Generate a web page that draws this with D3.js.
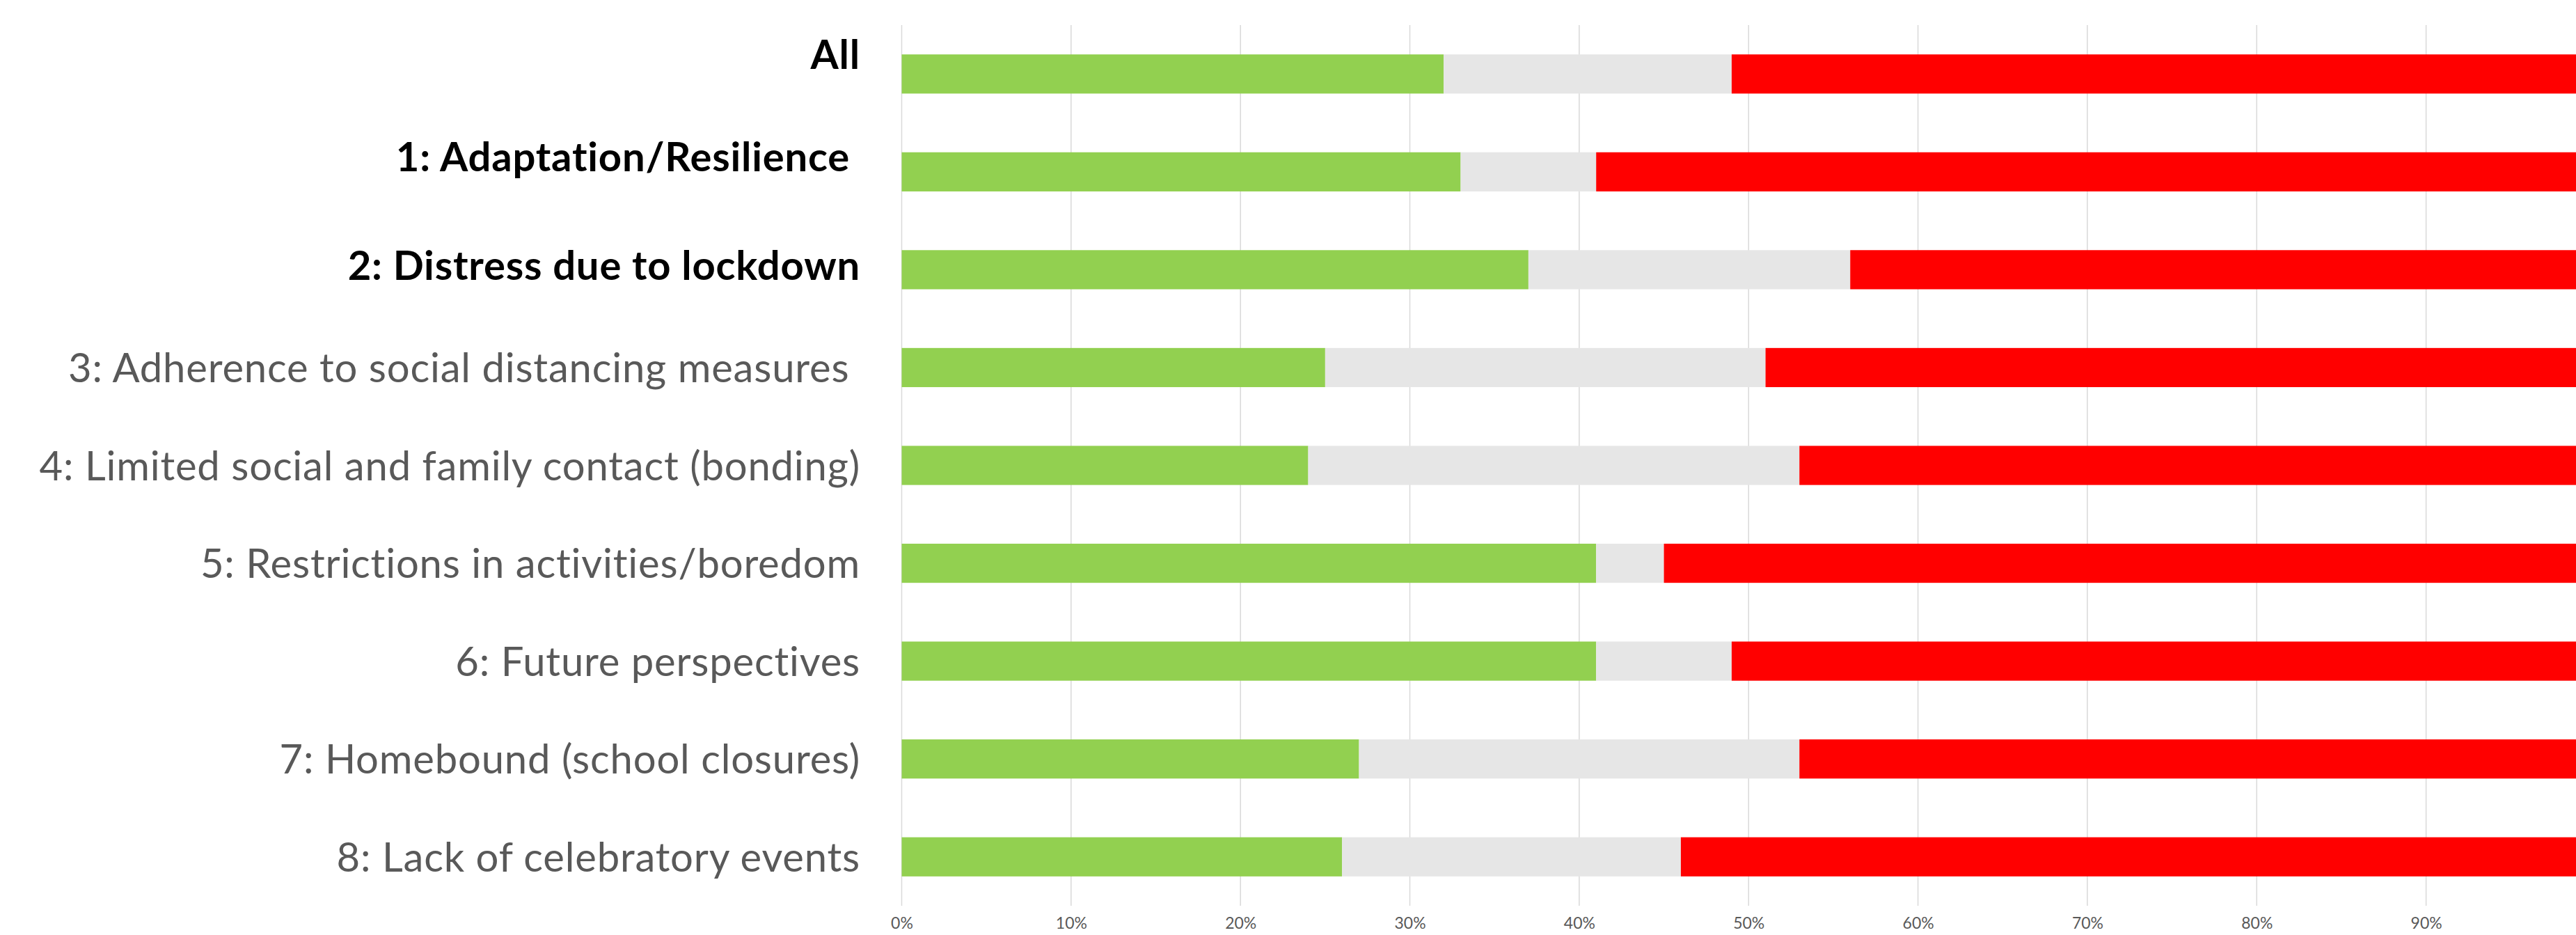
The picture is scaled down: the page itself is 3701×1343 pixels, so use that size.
<!DOCTYPE html>
<html>
<head>
<meta charset="utf-8">
<script src="https://cdn.jsdelivr.net/npm/d3@7"></script>
<style>
    body { margin: 0; background: #fff; }
    text { font-family: Lato, "Open Sans", sans-serif; }
</style>
</head>
<body>
<div id="chart"></div>
<script>

// categories, top to bottom (trailing spaces are in the original labels)
const categories = [
    "All",
    "1: Adaptation/Resilience ",
    "2: Distress due to lockdown",
    "3: Adherence to social distancing measures ",
    "4: Limited social and family contact (bonding)",
    "5: Restrictions in activities/boredom",
    "6: Future perspectives",
    "7: Homebound (school closures)",
    "8: Lack of celebratory events"
];
const boldCategories = ["All", "1: Adaptation/Resilience ", "2: Distress due to lockdown"];

// percent of answers per category
const positive = [32, 33, 37, 25, 24, 41, 41, 27, 26];
const neutral  = [17,  8, 19, 26, 29,  4,  8, 26, 20];
const negative = [51, 59, 44, 49, 47, 55, 51, 47, 54];

const gridValues = [0, 10, 20, 30, 40, 50, 60, 70, 80, 90, 100];
// 100% falls outside the picture, so no label for it
const tickValues = [0, 10, 20, 30, 40, 50, 60, 70, 80, 90];
const seriesKeys = ["positive", "neutral", "negative"];
const seriesColors = ["#92d050", "#e6e6e6", "#ff0000"];

// the top three labels sit a bit above their bars in the original
const labelNudge = [-28, -22, -6, 0, 0, 0, 0, 0, 0];

class StackedBars {

    constructor(_parentContainer) {
        this.parentContainer = _parentContainer;
        this.data = categories.map((c, i) => ({
            category: c,
            positive: positive[i],
            neutral: neutral[i],
            negative: negative[i]
        }));
        this.initVis();
    }

    initVis() {
        let vis = this;

        vis.width = 3701;
        vis.height = 1343;

        vis.svg = d3.select("#" + vis.parentContainer).append("svg")
            .attr("width", vis.width)
            .attr("height", vis.height);

        // axis runs past the right edge, 100% is cut off like in the original
        vis.x = d3.scaleLinear()
            .domain([0, 100])
            .range([1295.5, 3729]);

        vis.y = d3.scaleBand()
            .domain(categories)
            .range([36, 1301])
            .paddingInner(0.6)
            .paddingOuter(0.3);

        vis.color = d3.scaleOrdinal()
            .domain(seriesKeys)
            .range(seriesColors);

        // vertical gridlines
        vis.svg.append("g")
            .attr("class", "grid")
            .selectAll("line")
            .data(gridValues)
            .enter().append("line")
            .attr("x1", d => vis.x(d))
            .attr("x2", d => vis.x(d))
            .attr("y1", 36)
            .attr("y2", 1301)
            .style("stroke", "#d9d9d9")
            .style("stroke-width", 1.5);

        // tick labels
        let xAxis = d3.axisBottom(vis.x)
            .tickValues(tickValues)
            .tickFormat(d => d + "%")
            .tickSize(0)
            .tickPadding(0);

        vis.svg.append("g")
            .attr("class", "x-axis")
            .attr("transform", "translate(0,1318)")
            .call(xAxis)
            .call(g => g.select(".domain").remove())
            .selectAll("text")
            .style("font-family", "Lato, 'Open Sans', sans-serif")
            .style("font-size", "23px")
            .style("fill", "#595959");

        vis.updateVis();
    }

    updateVis() {
        let vis = this;

        let stacked = d3.stack().keys(seriesKeys)(vis.data);

        let layers = vis.svg.selectAll(".layer")
            .data(stacked)
            .enter().append("g")
            .attr("class", "layer")
            .style("fill", d => vis.color(d.key));

        layers.selectAll("rect")
            .data(d => d)
            .enter().append("rect")
            .attr("x", d => vis.x(d[0]))
            .attr("width", d => vis.x(d[1]) - vis.x(d[0]))
            .attr("y", d => vis.y(d.data.category))
            .attr("height", vis.y.bandwidth());

        vis.svg.selectAll(".name")
            .data(categories)
            .enter().append("text")
            .attr("class", "name")
            .attr("x", 1236)
            .attr("y", (d, i) => vis.y(d) + vis.y.bandwidth() / 2 + 21 + labelNudge[i])
            .style("text-anchor", "end")
            .style("white-space", "pre")
            .style("font-size", "58px")
            .style("letter-spacing", "0.8px")
            .style("font-weight", d => boldCategories.includes(d) ? "bold" : "normal")
            .style("fill", d => boldCategories.includes(d) ? "#000000" : "#595959")
            .text(d => d);
    }
}

new StackedBars("chart");

</script>
</body>
</html>
